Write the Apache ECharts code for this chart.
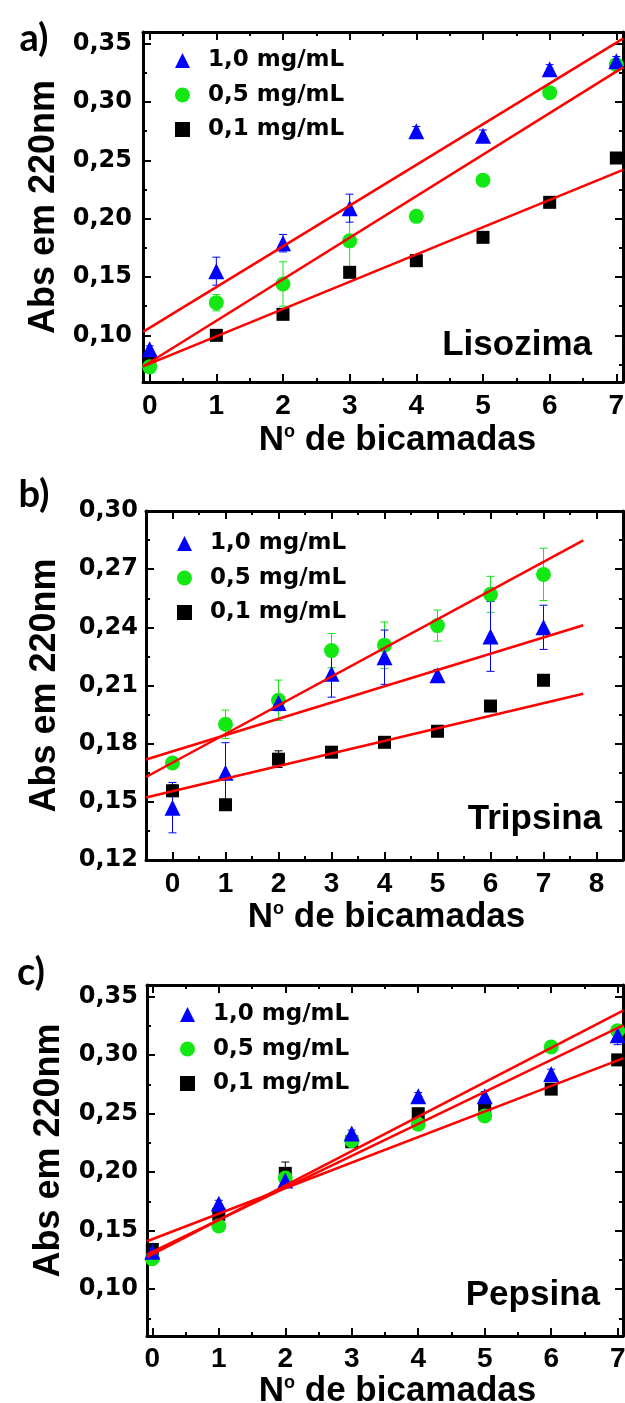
<!DOCTYPE html>
<html>
<head>
<meta charset="utf-8">
<style>
  html, body { margin: 0; padding: 0; background: #ffffff; }
  #chart { width: 625px; height: 1403px; }
</style>
<script src="https://cdn.jsdelivr.net/npm/echarts@6/dist/echarts.min.js"></script>
</head>
<body>
<div id="chart"></div>
<script>
// ---- data ----
const bilayers = [0, 1, 2, 3, 4, 5, 6, 7];
const seriesNames = ['1,0 mg/mL', '0,5 mg/mL', '0,1 mg/mL'];
const proteins = ['Lisozima', 'Tripsina', 'Pepsina'];
const panelTags = ['a)', 'b)', 'c)'];

// Lisozima
const lisozimaHigh    = [0.088, 0.155, 0.179, 0.209, 0.275, 0.271, 0.328, 0.335];
const lisozimaHighErr = [0.003, 0.012, 0.0075, 0.012, 0.004, 0.005, 0.004, 0.004];
const lisozimaMid     = [0.073, 0.128, 0.144, 0.181, 0.202, 0.233, 0.308, 0.332];
const lisozimaMidErr  = [0.003, 0.007, 0.019, 0.0247, 0.002, 0.002, 0.003, 0.003];
const lisozimaLow     = [0.078, 0.100, 0.118, 0.154, 0.164, 0.184, 0.214, 0.252];
const lisozimaLowErr  = [0.002, 0.002, 0.002, 0.002, 0.002, 0.002, 0.002, 0.002];
// linear fits: [slope, intercept] for 1,0 / 0,5 / 0,1 mg/mL
const lisozimaFits = [[0.0349, 0.1065], [0.0356, 0.0769], [0.0234, 0.0757]];

// Tripsina
const tripsinaHigh    = [0.147, 0.165, 0.201, 0.216, 0.2246, 0.2153, 0.2353, 0.240];
const tripsinaHighErr = [0.013, 0.0155, 0.004, 0.012, 0.014, 0.003, 0.018, 0.0114];
const tripsinaMid     = [0.170, 0.190, 0.2024, 0.228, 0.2308, 0.2409, 0.257, 0.2673];
const tripsinaMidErr  = [0.002, 0.0073, 0.0104, 0.0088, 0.012, 0.008, 0.0093, 0.0135];
const tripsinaLow     = [0.1557, 0.1485, 0.172, 0.1756, 0.1807, 0.1864, 0.1994, 0.2127];
const tripsinaLowErr  = [0.003, 0.002, 0.0043, 0.002, 0.002, 0.002, 0.002, 0.002];
const tripsinaFits = [[0.0084, 0.176], [0.01479, 0.1702], [0.00648, 0.1555]];

// Pepsina
const pepsinaHigh    = [0.132, 0.173, 0.193, 0.233, 0.265, 0.265, 0.284, 0.317];
const pepsinaHighErr = [0.004, 0.003, 0.004, 0.003, 0.003, 0.004, 0.004, 0.008];
const pepsinaMid     = [0.126, 0.154, 0.195, 0.227, 0.241, 0.248, 0.307, 0.321];
const pepsinaMidErr  = [0.002, 0.003, 0.003, 0.002, 0.003, 0.004, 0.002, 0.003];
const pepsinaLow     = [0.134, 0.164, 0.199, 0.226, 0.250, 0.254, 0.271, 0.296];
const pepsinaLowErr  = [0.003, 0.003, 0.0097, 0.002, 0.003, 0.003, 0.003, 0.003];
const pepsinaFits = [[0.02734, 0.1319], [0.02943, 0.1298], [0.02183, 0.1427]];

// axis ticks
const yTicksA = [0.10, 0.15, 0.20, 0.25, 0.30, 0.35];
const yMinorA = [0.075, 0.125, 0.175, 0.225, 0.275, 0.325];
const yTicksB = [0.12, 0.15, 0.18, 0.21, 0.24, 0.27, 0.30];
const yMinorB = [0.135, 0.165, 0.195, 0.225, 0.255, 0.285];
const xTicks7 = [0, 1, 2, 3, 4, 5, 6, 7];
const xMinor7 = [0.5, 1.5, 2.5, 3.5, 4.5, 5.5, 6.5];
const xTicks8 = [0, 1, 2, 3, 4, 5, 6, 7, 8];
const xMinor8 = [0.5, 1.5, 2.5, 3.5, 4.5, 5.5, 6.5, 7.5];

// ---- panel assembly ----
const panels = [
  { high: lisozimaHigh, highErr: lisozimaHighErr, mid: lisozimaMid, midErr: lisozimaMidErr,
    low: lisozimaLow, lowErr: lisozimaLowErr, fits: lisozimaFits,
    xRange: [-0.1, 7.1], yRange: [0.06, 0.36], fitSpan: [-0.1, 7.1],
    xMajor: xTicks7, xMinor: xMinor7, yMajor: yTicksA, yMinor: yMinorA },
  { high: tripsinaHigh, highErr: tripsinaHighErr, mid: tripsinaMid, midErr: tripsinaMidErr,
    low: tripsinaLow, lowErr: tripsinaLowErr, fits: tripsinaFits,
    xRange: [-0.5, 8.5], yRange: [0.12, 0.30], fitSpan: [-0.5, 7.75],
    xMajor: xTicks8, xMinor: xMinor8, yMajor: yTicksB, yMinor: yMinorB },
  { high: pepsinaHigh, highErr: pepsinaHighErr, mid: pepsinaMid, midErr: pepsinaMidErr,
    low: pepsinaLow, lowErr: pepsinaLowErr, fits: pepsinaFits,
    xRange: [-0.08, 7.08], yRange: [0.06, 0.36], fitSpan: [-0.08, 7.08],
    xMajor: xTicks7, xMinor: xMinor7, yMajor: yTicksA, yMinor: yMinorA }
];

const layout = [
  { grid: { left: 143, top: 32, width: 480, height: 350 }, legend: { left: 170, top: 44 },
    yLabelMargin: 11, xLabelMargin: 10, yNameGap: 76, yNameShift: 0, xNameGap: 41, xNameShift: 29,
    tag: [34, 39], protein: [592, 345] },
  { grid: { left: 146, top: 511, width: 477, height: 349 }, legend: { left: 172, top: 527 },
    yLabelMargin: 8, xLabelMargin: 10, yNameGap: 83, yNameShift: 0, xNameGap: 40, xNameShift: 4,
    tag: [34, 495], protein: [602, 819] },
  { grid: { left: 147, top: 985, width: 476, height: 351 }, legend: { left: 175, top: 998 },
    yLabelMargin: 9, xLabelMargin: 9, yNameGap: 80, yNameShift: 20, xNameGap: 23, xNameShift: 25,
    tag: [31, 973], protein: [600, 1295] }
];

const FONT = 'DejaVu Sans';
const TITLE_FONT = 'Liberation Sans';
const COLORS = { high: '#0000ff', mid: '#14e814', low: '#000000', fit: '#ff0000' };
const SYMBOLS = { high: ['triangle', 16], mid: ['circle', 15], low: ['rect', 13] };

function comma2(v) { return v.toFixed(2).replace('.', ','); }

function errRender(params, api) {
  const x = api.value(0), y = api.value(1), e = api.value(2);
  const a = api.coord([x, y + e]);
  const b = api.coord([x, y - e]);
  const hw = 4;
  const style = { stroke: api.visual('color'), lineWidth: 1 };
  return {
    type: 'group',
    children: [
      { type: 'line', shape: { x1: a[0], y1: a[1], x2: b[0], y2: b[1] }, style: style },
      { type: 'line', shape: { x1: a[0] - hw, y1: a[1], x2: a[0] + hw, y2: a[1] }, style: style },
      { type: 'line', shape: { x1: b[0] - hw, y1: b[1], x2: b[0] + hw, y2: b[1] }, style: style }
    ]
  };
}

const grids = [], xAxes = [], yAxes = [], legends = [], series = [], graphics = [];

function sideAxes(gi, positions, range, majors, minors, labelCfg, nameCfg) {
  const out = [];
  positions.forEach(function (pos, k) {
    const base = {
      type: 'value', gridIndex: gi, position: pos, min: range[0], max: range[1],
      splitLine: { show: false }
    };
    const major = Object.assign({}, base, {
      axisLine: { show: true, onZero: false, lineStyle: { color: '#000', width: 3 } },
      axisTick: { show: true, inside: true, length: 8, lineStyle: { color: '#000', width: 2 }, customValues: majors },
      axisLabel: k === 0 ? labelCfg : { show: false }
    });
    if (k === 0 && nameCfg) Object.assign(major, nameCfg);
    const minor = Object.assign({}, base, {
      axisLine: { show: false, onZero: false },
      axisTick: { show: true, inside: true, length: 4, lineStyle: { color: '#000', width: 2 }, customValues: minors },
      axisLabel: { show: false }
    });
    out.push(major, minor);
  });
  return out;
}

panels.forEach(function (p, gi) {
  const L = layout[gi];
  grids.push(Object.assign({ outerBoundsMode: 'none', containLabel: false }, L.grid));

  xAxes.push.apply(xAxes, sideAxes(gi, ['bottom', 'top'], p.xRange, p.xMajor, p.xMinor,
    { show: true, customValues: p.xMajor, margin: L.xLabelMargin,
      fontFamily: TITLE_FONT, fontWeight: 'bold', fontSize: 28, color: '#000',
      formatter: function (v) { return String(Math.round(v)); } },
    {
      name: '{n|N}{o|o}{n| de bicamadas}',
      nameLocation: 'middle',
      nameGap: L.xNameGap,
      nameTextStyle: {
        fontFamily: TITLE_FONT, fontWeight: 'bold', fontSize: 35, color: '#000',
        padding: [0, 0, 0, L.xNameShift],
        rich: {
          n: { fontFamily: TITLE_FONT, fontWeight: 'bold', fontSize: 35, color: '#000', lineHeight: 35 },
          o: { fontFamily: TITLE_FONT, fontWeight: 'bold', fontSize: 18, color: '#000', verticalAlign: 'top', lineHeight: 18 }
        }
      }
    }));

  yAxes.push.apply(yAxes, sideAxes(gi, ['left', 'right'], p.yRange, p.yMajor, p.yMinor,
    { show: true, customValues: p.yMajor, margin: L.yLabelMargin, formatter: comma2,
      fontFamily: FONT, fontWeight: 'bold', fontSize: 24, color: '#000' },
    {
      name: 'Abs em 220nm',
      nameLocation: 'middle',
      nameGap: L.yNameGap,
      nameRotate: 90,
      nameTextStyle: { fontFamily: TITLE_FONT, fontWeight: 'bold', fontSize: 36, color: '#000',
        padding: [0, 0, 0, L.yNameShift] }
    }));

  const xi = gi * 4, yi = gi * 4;
  const groups = [
    { key: 'low', vals: p.low, err: p.lowErr, name: seriesNames[2] },
    { key: 'mid', vals: p.mid, err: p.midErr, name: seriesNames[1] },
    { key: 'high', vals: p.high, err: p.highErr, name: seriesNames[0] }
  ];

  // error bars
  groups.forEach(function (g) {
    series.push({
      type: 'custom', name: 'err ' + g.key + ' ' + gi, xAxisIndex: xi, yAxisIndex: yi,
      renderItem: errRender, silent: true, z: 2,
      itemStyle: { color: COLORS[g.key] },
      encode: { x: 0, y: 1 },
      data: bilayers.map(function (x, i) { return [x, g.vals[i], g.err[i]]; })
    });
  });

  // measured points
  groups.forEach(function (g) {
    series.push({
      type: 'scatter', name: g.name, xAxisIndex: xi, yAxisIndex: yi, z: 3,
      symbol: SYMBOLS[g.key][0], symbolSize: SYMBOLS[g.key][1],
      itemStyle: { color: COLORS[g.key], opacity: 1 },
      clip: false,
      data: bilayers.map(function (x, i) { return [x, g.vals[i]]; })
    });
  });

  // fitted lines
  p.fits.forEach(function (f, k) {
    series.push({
      type: 'line', name: 'fit ' + gi + '-' + k, xAxisIndex: xi, yAxisIndex: yi, z: 4,
      showSymbol: false, silent: true, clip: true,
      lineStyle: { color: COLORS.fit, width: 2.5 },
      data: p.fitSpan.map(function (x) { return [x, f[1] + f[0] * x]; })
    });
  });

  legends.push({
    data: seriesNames, orient: 'vertical', selectedMode: false,
    left: L.legend.left, top: L.legend.top,
    itemWidth: 15, itemHeight: 15, itemGap: 11.5,
    textStyle: { fontFamily: FONT, fontWeight: 'bold', fontSize: 23, color: '#000', padding: [0, 0, 0, 13] }
  });

  graphics.push({
    type: 'text', x: L.tag[0], y: L.tag[1],
    style: { text: panelTags[gi], font: 'bold 38px Lato', fill: '#000', align: 'center', verticalAlign: 'middle' }
  });
  graphics.push({
    type: 'text', x: L.protein[0], y: L.protein[1],
    style: { text: proteins[gi], font: 'bold 35px "Liberation Sans"', fill: '#000', align: 'right', verticalAlign: 'middle' }
  });
});

const chart = echarts.init(document.getElementById('chart'), null, { renderer: 'canvas', width: 625, height: 1403 });
chart.setOption({
  animation: false,
  backgroundColor: '#ffffff',
  grid: grids,
  xAxis: xAxes,
  yAxis: yAxes,
  legend: legends,
  series: series,
  graphic: graphics
});
</script>
</body>
</html>
